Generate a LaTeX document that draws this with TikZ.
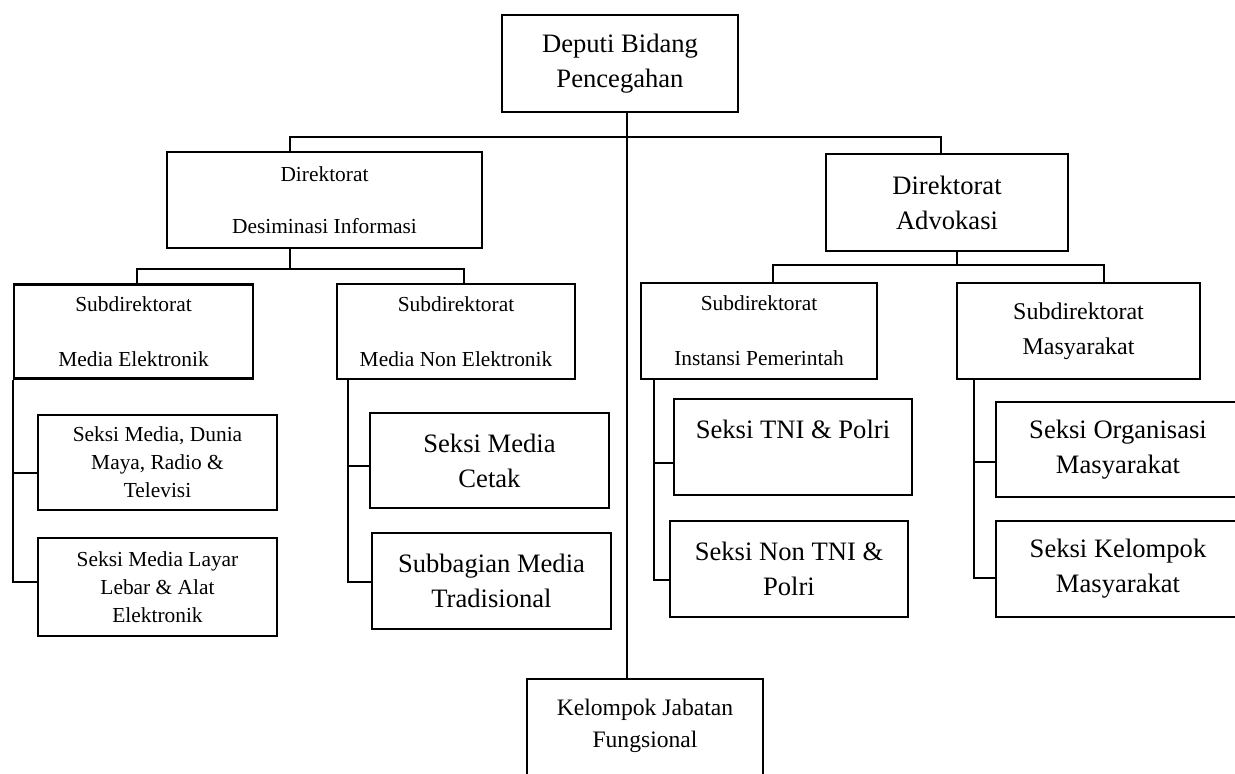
\documentclass[tikz,border=0pt]{standalone}
\usepackage{fontspec}
\setmainfont{Liberation Serif}
\usetikzlibrary{calc}
\newcommand{\fbig}  {\fontsize{13.3}{17.5}\selectfont}
\newcommand{\fmid}  {\fontsize{12}{17.5}\selectfont}
\newcommand{\fsmall}{\fontsize{10.7}{14}\selectfont}
\newcommand{\fkel}  {\fontsize{11.8}{16}\selectfont}

\begin{document}
\begin{tikzpicture}[x=0.5pt,y=-0.5pt,
    box/.style={draw,line width=1.1pt,rectangle,align=center,inner sep=0pt},
    link/.style={line width=0.9pt}]
  \useasboundingbox (0,0) rectangle (1235,773);
  % deputi and direktorat
  \node[box,minimum width=118pt,minimum height=48.5pt,font=\fbig] (dep) at (620,63.5) {Deputi Bidang\\Pencegahan};
  \node[box,minimum width=157.5pt,minimum height=48pt,font=\fsmall] (dir) at (324.5,200) {Direktorat\\[12pt]Desiminasi Informasi};
  \node[box,minimum width=121pt,minimum height=48.5pt,font=\fbig] (adv) at (947,202.5) {Direktorat\\Advokasi};
  % subdirektorat
  \node[box,minimum width=119.5pt,minimum height=47pt,font=\fsmall] (sme) at (133.5,331.5) {Subdirektorat\\[13.5pt]Media Elektronik};
  \node[box,minimum width=119pt,minimum height=47.5pt,font=\fsmall] (smn) at (456,331.5) {Subdirektorat\\[13.5pt]Media Non Elektronik};
  \node[box,minimum width=118pt,minimum height=48pt,font=\fsmall] (sip) at (759,331) {Subdirektorat\\[13.5pt]Instansi Pemerintah};
  \node[box,minimum width=121.5pt,minimum height=48pt,font=\fmid] (smy) at (1078.5,331) {Subdirektorat\\Masyarakat};
  % seksi
  \node[box,minimum width=119.5pt,minimum height=47.5pt,font=\fsmall] (s1) at (157.5,462.5) {Seksi Media, Dunia\\Maya, Radio \&\\Televisi};
  \node[box,minimum width=119.5pt,minimum height=49pt,font=\fsmall] (s2) at (157.5,587) {Seksi Media Layar\\Lebar \& Alat\\Elektronik};
  \node[box,minimum width=119.5pt,minimum height=47.5pt,font=\fbig] (s3) at (489.5,460.5) {Seksi Media\\Cetak};
  \node[box,minimum width=119.5pt,minimum height=48pt,font=\fbig] (s4) at (491.5,581) {Subbagian Media\\Tradisional};
  \node[box,minimum width=119pt,minimum height=48pt,font=\fbig] (s5) at (793,447) {Seksi TNI \& Polri\\\mbox{}};
  \node[box,minimum width=119pt,minimum height=48pt,font=\fbig] (s6) at (789,569) {Seksi Non TNI \&\\Polri};
  \node[box,minimum width=122pt,minimum height=47.5pt,font=\fbig] (s7) at (1118,449.5) {Seksi Organisasi\\Masyarakat};
  \node[box,minimum width=122pt,minimum height=48pt,font=\fbig] (s8) at (1118,569) {Seksi Kelompok\\Masyarakat};
  \node[box,minimum width=118pt,minimum height=60.5pt,font=\fkel] (kjf) at (645,739.5) {Kelompok Jabatan\\Fungsional\\\mbox{}};

  % connectors
  \coordinate (jtop) at (627,137);
  \coordinate (jdir) at (290,269);
  \coordinate (jadv) at (957,265);
  \draw[link] ($(dep.south)+(7,0)$) -- ($(kjf.north)+(-18,0)$);
  \draw[link] ($(dir.north)+(-34.5,0)$) |- (jtop) -| ($(adv.north)+(-6,0)$);
  \draw[link] ($(dir.south)+(-34.5,0)$) -- (jdir);
  \draw[link] ($(sme.north)+(3.5,0)$) |- (jdir) -| ($(smn.north)+(8,0)$);
  \draw[link] ($(adv.south)+(10,0)$) -- (jadv);
  \draw[link] ($(sip.north)+(14,0)$) |- (jadv) -| ($(smy.north)+(25.5,0)$);
  % seksi under subdirektorat
  \draw[link] (sme.south west) |- ($(s2.west)+(0,-5)$);
  \draw[link] ($(s1.west)+(0,10.5)$) -- ++(-24,0);
  \draw[link] ($(smn.south west)+(12,0)$) |- ($(s4.west)+(0,1)$);
  \draw[link] ($(s3.west)+(0,5.5)$) -- ++(-21,0);
  \draw[link] ($(sip.south west)+(14,0)$) |- ($(s6.west)+(0,11)$);
  \draw[link] ($(s5.west)+(0,16)$) -- ++(-19,0);
  \draw[link] ($(smy.south west)+(18,0)$) |- ($(s8.west)+(0,9)$);
  \draw[link] ($(s7.west)+(0,12.5)$) -- ++(-21,0);
\end{tikzpicture}
\end{document}
